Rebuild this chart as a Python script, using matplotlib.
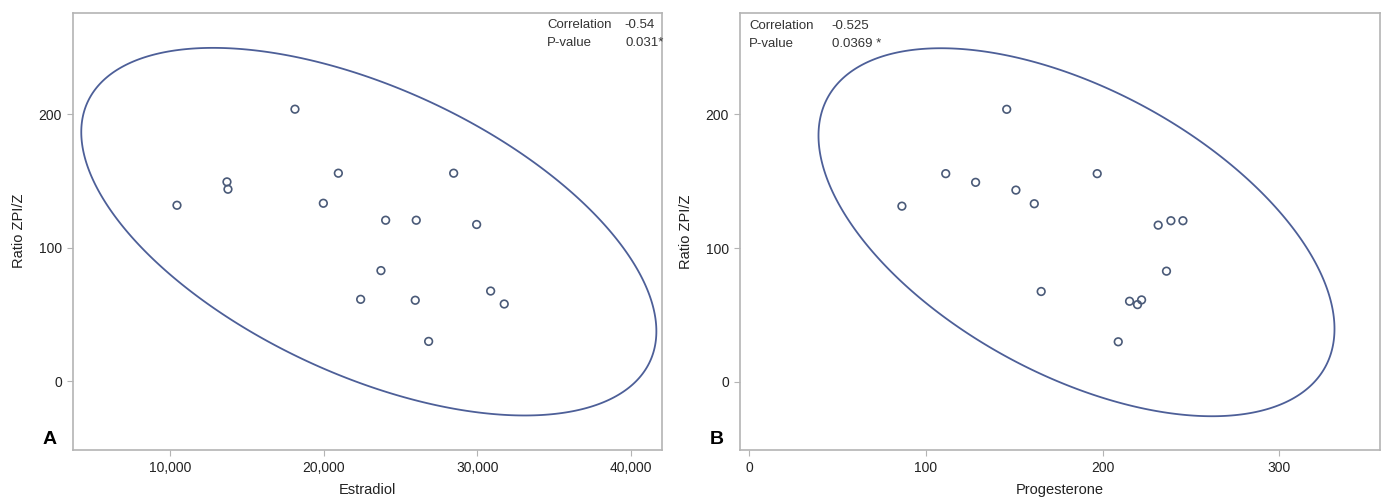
import numpy as np
import matplotlib.pyplot as plt
from matplotlib.patches import Polygon
from matplotlib.ticker import StrMethodFormatter

plt.rcParams['font.family'] = ['Liberation Sans', 'DejaVu Sans']

# panel A: estradiol vs ratio ZPI/Z
estradiol = [10455, 13708, 13773, 18133, 20956, 19980, 24034, 26025,
             28460, 29955, 23728, 22407, 25960, 30866, 31751, 26831]
ratio_a = [131.8, 149.3, 143.8, 203.7, 155.8, 133.3, 120.6, 120.6,
           155.8, 117.4, 82.9, 61.4, 60.7, 67.6, 57.9, 29.9]

# panel B: progesterone vs ratio ZPI/Z
progesterone = [145.8, 111.3, 128.2, 151.0, 161.4, 86.5, 197.0, 231.5,
                238.7, 245.5, 236.2, 215.3, 219.8, 222.1, 208.9, 165.3]
ratio_b = [203.7, 155.6, 149.1, 143.3, 133.1, 131.3, 155.6, 117.1,
           120.4, 120.4, 82.7, 60.2, 57.7, 61.2, 29.9, 67.5]

stats_a = [('Correlation', '-0.54'), ('P-value', '0.031*')]
stats_b = [('Correlation', '-0.525'), ('P-value', '0.0369 *')]

ell_color = '#4d5f98'
pt_color = '#4a5a78'
frame_color = '#b4b4b4'


def prediction_ellipse(x, y, alpha=0.05, npts=400):
    # 95% prediction ellipse for a bivariate normal (same as SAS PROC CORR)
    x, y = np.asarray(x, float), np.asarray(y, float)
    n = len(x)
    cov = np.cov(x, y)
    f = (n - 2) / 2 * (alpha ** (-2 / (n - 2)) - 1)  # F(2, n-2) quantile
    c = 2 * (n - 1) * (n + 1) / (n * (n - 2)) * f
    L = np.linalg.cholesky(cov)
    t = np.linspace(0, 2 * np.pi, npts, endpoint=False)
    circ = np.vstack([np.cos(t), np.sin(t)])
    pts = np.sqrt(c) * L @ circ
    return np.column_stack([x.mean() + pts[0], y.mean() + pts[1]])


def style(ax):
    for s in ax.spines.values():
        s.set_color(frame_color)
        s.set_linewidth(1.2)
    ax.tick_params(direction='out', length=4, color=frame_color,
                   labelsize=10, labelcolor='#222222', pad=4)


fig = plt.figure(figsize=(13.86, 4.97), dpi=100)
axA = fig.add_axes([73 / 1386, 1 - 449.5 / 497, 589 / 1386, 436.5 / 497])
axB = fig.add_axes([740 / 1386, 1 - 450 / 497, 640 / 1386, 437 / 497])

for ax, xs, ys in [(axA, estradiol, ratio_a), (axB, progesterone, ratio_b)]:
    ax.add_patch(Polygon(prediction_ellipse(xs, ys), closed=True, fill=False,
                         edgecolor=ell_color, lw=1.3))
    ax.scatter(xs, ys, s=30, facecolors='none', edgecolors=pt_color,
               linewidths=1.2, zorder=3)
    ax.set_ylim(-51, 275.7)
    ax.set_yticks([0, 100, 200])
    ax.set_ylabel('Ratio ZPI/Z', fontsize=10.5, color='#222222', labelpad=9)
    style(ax)

axA.set_xlim(3689, 42017)
axA.set_xticks([10000, 20000, 30000, 40000])
axA.xaxis.set_major_formatter(StrMethodFormatter('{x:,.0f}'))
axA.set_xlabel('Estradiol', fontsize=10.5, color='#222222', labelpad=6)

axB.set_xlim(-5.1, 357)
axB.set_xticks([0, 100, 200, 300])
axB.set_xlabel('Progesterone', fontsize=10.5, color='#222222', labelpad=6)

# correlation boxes
tk = dict(fontsize=9.5, color='#333333', va='center')
axA.text(0.805, 0.972, stats_a[0][0], transform=axA.transAxes, **tk)
axA.text(0.936, 0.972, stats_a[0][1], transform=axA.transAxes, **tk)
axA.text(0.805, 0.932, stats_a[1][0], transform=axA.transAxes, **tk)
axA.text(1.004, 0.932, stats_a[1][1], transform=axA.transAxes, ha='right', **tk)

axB.text(0.014, 0.97, stats_b[0][0], transform=axB.transAxes, **tk)
axB.text(0.143, 0.97, stats_b[0][1], transform=axB.transAxes, **tk)
axB.text(0.014, 0.93, stats_b[1][0], transform=axB.transAxes, **tk)
axB.text(0.143, 0.93, stats_b[1][1], transform=axB.transAxes, **tk)

# panel letters
fig.text(50 / 1386, 1 - 440 / 497, 'A', fontsize=14, fontweight='bold',
         ha='center', va='center')
fig.text(717 / 1386, 1 - 439 / 497, 'B', fontsize=14, fontweight='bold',
         ha='center', va='center')

fig.savefig('out.png', dpi=100)
